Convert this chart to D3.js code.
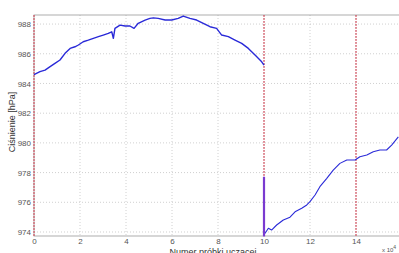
<!DOCTYPE html>
<html>
<head>
<meta charset="utf-8">
<script src="https://cdn.jsdelivr.net/npm/d3@7"></script>
<style>
  body { margin: 0; background: #fff; }
  svg { display: block; font-family: "Liberation Sans", Arial, sans-serif; }
  .tick text { fill: #555; font-size: 8px; }
</style>
</head>
<body>
<svg id="chart" width="399" height="253"></svg>
<script>
// sample index (x 10^4) and pressure [hPa]
const seg1X = [0, 0.26, 0.48, 0.70, 0.91, 1.13, 1.35, 1.57, 1.78, 1.93, 2.14, 2.36, 2.58, 2.80, 3.01, 3.23, 3.38, 3.45, 3.52, 3.74, 3.96, 4.17, 4.35, 4.53, 4.83, 5.04, 5.19, 5.40, 5.70, 5.99, 6.27, 6.49, 6.78, 7.07, 7.36, 7.65, 7.94, 8.16, 8.45, 8.74, 9.03, 9.32, 9.61, 9.90, 10.0];
const seg1Y = [984.6, 984.8, 984.9, 985.13, 985.35, 985.58, 986.03, 986.36, 986.47, 986.59, 986.81, 986.92, 987.04, 987.15, 987.26, 987.37, 987.48, 987.04, 987.71, 987.93, 987.87, 987.87, 987.71, 988.05, 988.27, 988.38, 988.42, 988.38, 988.27, 988.27, 988.38, 988.54, 988.38, 988.27, 988.05, 987.82, 987.71, 987.26, 987.15, 986.92, 986.7, 986.36, 985.91, 985.46, 985.24];
const seg2X = [10.04, 10.19, 10.33, 10.55, 10.84, 11.13, 11.35, 11.64, 11.86, 12.0, 12.22, 12.43, 12.73, 13.01, 13.30, 13.6, 13.96, 14.17, 14.47, 14.75, 15.04, 15.33, 15.55, 15.84];
const seg2Y = [973.9, 974.25, 974.13, 974.47, 974.81, 975.0, 975.36, 975.6, 975.82, 976.04, 976.49, 977.05, 977.61, 978.17, 978.62, 978.85, 978.85, 979.07, 979.18, 979.4, 979.52, 979.52, 979.85, 980.41];
const jumpX = [10, 10];
const jumpY = [973.7, 977.72];
const markerX = [0, 10, 14];
const xTicks = [0, 2, 4, 6, 8, 10, 12, 14];
const xGrid = [2, 4, 6, 8, 10, 12, 14, 16];
const yTicks = [974, 976, 978, 980, 982, 984, 986, 988];

const svg = d3.select("#chart");
const m = { left: 34, right: 402, top: 15, bottom: 236 };

const x = d3.scaleLinear().domain([0, 16]).range([m.left, m.right]);
const y = d3.scaleLinear().domain([973.73, 988.61]).range([m.bottom, m.top]);

// grid
svg.append("g").selectAll("line").data(xGrid).join("line")
  .attr("x1", d => x(d)).attr("x2", d => x(d))
  .attr("y1", m.top).attr("y2", m.bottom)
  .attr("stroke", "#c4c4c4").attr("stroke-width", 0.8).attr("stroke-dasharray", "1,2");
svg.append("g").selectAll("line").data(yTicks).join("line")
  .attr("x1", m.left).attr("x2", m.right)
  .attr("y1", d => y(d)).attr("y2", d => y(d))
  .attr("stroke", "#c4c4c4").attr("stroke-width", 0.8).attr("stroke-dasharray", "1,2");

// frame
svg.append("rect").attr("x", m.left).attr("y", m.top)
  .attr("width", m.right - m.left).attr("height", m.bottom - m.top)
  .attr("fill", "none").attr("stroke", "#999").attr("stroke-width", 0.8);

// axes
const xAxis = svg.append("g").attr("transform", "translate(0," + m.bottom + ")")
  .call(d3.axisBottom(x).tickValues(xTicks).tickSize(0).tickPadding(2));
xAxis.select(".domain").remove();
const yAxis = svg.append("g").attr("transform", "translate(" + m.left + ",0)")
  .call(d3.axisLeft(y).tickValues(yTicks).tickSize(0).tickPadding(3));
yAxis.select(".domain").remove();

// red markers
svg.append("g").selectAll("line").data(markerX).join("line")
  .attr("x1", d => x(d)).attr("x2", d => x(d))
  .attr("y1", m.top).attr("y2", m.bottom)
  .attr("stroke", "#d0384a").attr("stroke-width", 1).attr("stroke-dasharray", "2,1");

// data
const line = d3.line().x(d => x(d[0])).y(d => y(d[1]));
svg.append("path").datum(d3.zip(seg1X, seg1Y))
  .attr("d", line).attr("fill", "none").attr("stroke", "#2a2ad8").attr("stroke-width", 1.4)
  .attr("stroke-linejoin", "round");
svg.append("path").datum(d3.zip(seg2X, seg2Y))
  .attr("d", line).attr("fill", "none").attr("stroke", "#2a2ad8").attr("stroke-width", 1.1)
  .attr("stroke-linejoin", "round");
svg.append("path").datum(d3.zip(jumpX, jumpY))
  .attr("d", line).attr("fill", "none").attr("stroke", "#7a3ad0").attr("stroke-width", 2.2);

// labels
svg.append("text").attr("x", 213).attr("y", 255).attr("text-anchor", "middle")
  .attr("font-size", 9).attr("fill", "#333").text("Numer próbki uczącej");
svg.append("text").attr("transform", "translate(15,122) rotate(-90)")
  .attr("text-anchor", "middle").attr("font-size", 9).attr("fill", "#333").text("Ciśnienie [hPa]");
svg.append("text").attr("x", 382).attr("y", 252).attr("font-size", 6).attr("fill", "#555")
  .text("x 10").append("tspan").attr("dy", -3).attr("font-size", 5).text("4");
</script>
</body>
</html>
